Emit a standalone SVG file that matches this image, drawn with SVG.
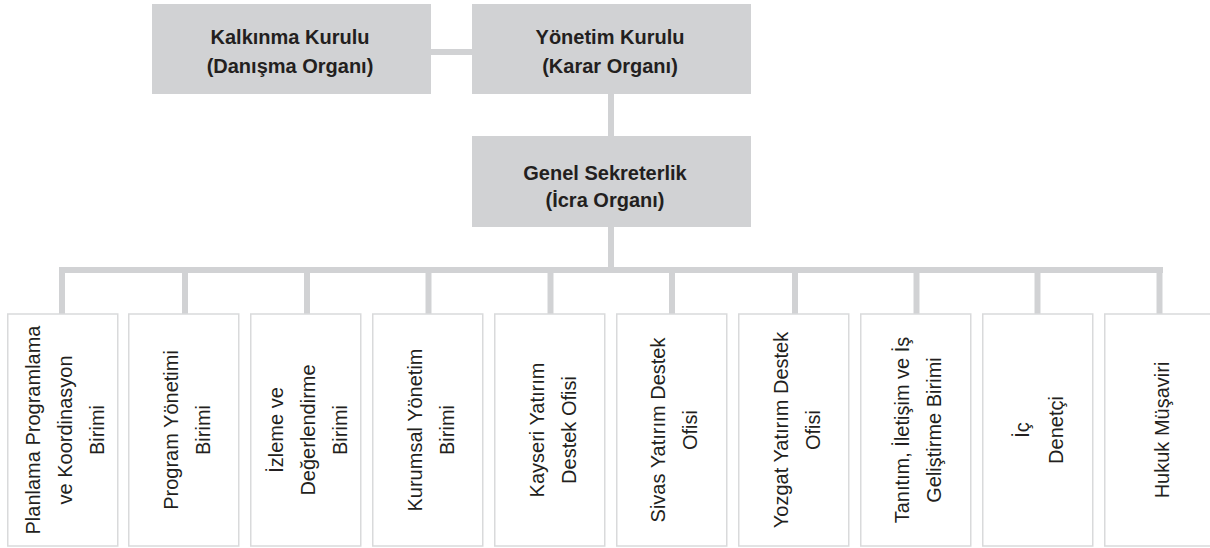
<svg xmlns="http://www.w3.org/2000/svg" width="1210" height="548" viewBox="0 0 1210 548">
<style>
.top{fill:#d1d2d4}
.unit{fill:#ffffff;stroke:#d9dadb;stroke-width:1.5}
.conn{stroke:#d1d2d4;stroke-width:6;fill:none}
.bt{font-family:"Liberation Sans",Arial,sans-serif;font-weight:bold;font-size:20px;fill:#231f20;text-anchor:middle}
.ut{font-family:"Liberation Sans",Arial,sans-serif;font-size:20px;fill:#231f20;text-anchor:middle}
</style>
<rect width="1210" height="548" fill="#ffffff"/>
<g id="connectors">
<line class="conn" x1="431" y1="52" x2="472" y2="52"/>
<line class="conn" x1="611" y1="94" x2="611" y2="136"/>
<line class="conn" x1="611" y1="227" x2="611" y2="270"/>
<line class="conn" x1="59" y1="270" x2="1163" y2="270"/>
<line class="conn" x1="62" y1="267" x2="62" y2="314"/>
<line class="conn" x1="185" y1="267" x2="185" y2="314"/>
<line class="conn" x1="307" y1="267" x2="307" y2="314"/>
<line class="conn" x1="428.5" y1="267" x2="428.5" y2="314"/>
<line class="conn" x1="550.5" y1="267" x2="550.5" y2="314"/>
<line class="conn" x1="672" y1="267" x2="672" y2="314"/>
<line class="conn" x1="795" y1="267" x2="795" y2="314"/>
<line class="conn" x1="916.5" y1="267" x2="916.5" y2="314"/>
<line class="conn" x1="1037.5" y1="267" x2="1037.5" y2="314"/>
<line class="conn" x1="1159.5" y1="267" x2="1159.5" y2="314"/>
</g>
<g id="kalkinma">
<rect class="top" x="152" y="4" width="279" height="90"/>
<text class="bt" x="290" y="44">Kalkınma Kurulu</text>
<text class="bt" x="290" y="73">(Danışma Organı)</text>
</g>
<g id="yonetim">
<rect class="top" x="472" y="4" width="279" height="90"/>
<text class="bt" x="610" y="44">Yönetim Kurulu</text>
<text class="bt" x="610" y="73">(Karar Organı)</text>
</g>
<g id="genel">
<rect class="top" x="472" y="136" width="279" height="91"/>
<text class="bt" x="605" y="180">Genel Sekreterlik</text>
<text class="bt" x="605" y="207">(İcra Organı)</text>
</g>
<g id="u1">
<rect class="unit" x="7.75" y="314" width="110" height="232"/>
<g transform="translate(72,430) rotate(-90)"><text class="ut"><tspan x="0" y="-32">Planlama Programlama</tspan><tspan x="0" y="0">ve Koordinasyon</tspan><tspan x="0" y="32">Birimi</tspan></text></g>
</g>
<g id="u2">
<rect class="unit" x="128.75" y="314" width="110" height="232"/>
<g transform="translate(193.5,430) rotate(-90)"><text class="ut"><tspan x="0" y="-16">Program Yönetimi</tspan><tspan x="0" y="16">Birimi</tspan></text></g>
</g>
<g id="u3">
<rect class="unit" x="250.75" y="314" width="110" height="232"/>
<g transform="translate(315,430) rotate(-90)"><text class="ut"><tspan x="0" y="-32">İzleme ve</tspan><tspan x="0" y="0">Değerlendirme</tspan><tspan x="0" y="32">Birimi</tspan></text></g>
</g>
<g id="u4">
<rect class="unit" x="372.75" y="314" width="110" height="232"/>
<g transform="translate(438,430) rotate(-90)"><text class="ut"><tspan x="0" y="-16">Kurumsal Yönetim</tspan><tspan x="0" y="16">Birimi</tspan></text></g>
</g>
<g id="u5">
<rect class="unit" x="494.75" y="314" width="110" height="232"/>
<g transform="translate(559.5,430) rotate(-90)"><text class="ut"><tspan x="0" y="-16">Kayseri Yatırım</tspan><tspan x="0" y="16">Destek Ofisi</tspan></text></g>
</g>
<g id="u6">
<rect class="unit" x="616.75" y="314" width="110" height="232"/>
<g transform="translate(681,430) rotate(-90)"><text class="ut"><tspan x="0" y="-16">Sivas Yatırım Destek</tspan><tspan x="0" y="16">Ofisi</tspan></text></g>
</g>
<g id="u7">
<rect class="unit" x="738.75" y="314" width="110" height="232"/>
<g transform="translate(803.5,430) rotate(-90)"><text class="ut"><tspan x="0" y="-16">Yozgat Yatırım Destek</tspan><tspan x="0" y="16">Ofisi</tspan></text></g>
</g>
<g id="u8">
<rect class="unit" x="860.75" y="314" width="110" height="232"/>
<g transform="translate(925,430) rotate(-90)"><text class="ut"><tspan x="0" y="-16">Tanıtım, İletişim ve İş</tspan><tspan x="0" y="16">Geliştirme Birimi</tspan></text></g>
</g>
<g id="u9">
<rect class="unit" x="982.75" y="314" width="110" height="232"/>
<g transform="translate(1046,430) rotate(-90)"><text class="ut"><tspan x="0" y="-17">İç</tspan><tspan x="0" y="17">Denetçi</tspan></text></g>
</g>
<g id="u10">
<rect class="unit" x="1104.75" y="314" width="110" height="232"/>
<g transform="translate(1169,430) rotate(-90)"><text class="ut"><tspan x="0" y="0">Hukuk Müşaviri</tspan></text></g>
</g>
</svg>
